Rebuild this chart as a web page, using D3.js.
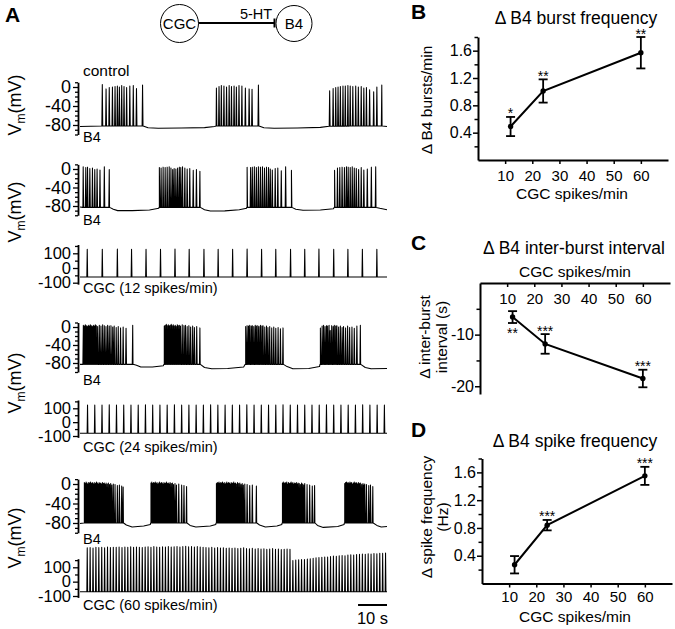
<!DOCTYPE html>
<html><head><meta charset="utf-8">
<script src="https://cdn.jsdelivr.net/npm/d3@7/dist/d3.min.js"></script>
<style>
html,body{margin:0;padding:0;background:#fff;}
svg{display:block;}
text{font-family:"Liberation Sans",Arial,Helvetica,sans-serif;fill:#000;}
</style></head><body>
<svg id="fig" width="675" height="629"></svg>
<script>
// ================= DATA =================
const cgcRates = [12, 24, 60];
const burstFreqMean = [0.49, 1.01, 1.57];
const burstFreqSem  = [0.14, 0.17, 0.23];
const burstFreqSig  = ["*", "**", "**"];
const interBurstMean = [-6.6, -11.8, -18.5];
const interBurstSem  = [1.15, 1.9, 1.7];
const interBurstSig  = ["**", "***", "***"];
const interBurstSigPos = ["below", "above", "above"];
const spikeFreqMean = [0.27, 0.84, 1.55];
const spikeFreqSem  = [0.125, 0.075, 0.13];
const spikeFreqSig  = ["", "***", "***"];

const xTickValues = [10, 20, 30, 40, 50, 60];
const freqTickValues = [0.2, 0.4, 0.6, 0.8, 1.0, 1.2, 1.4, 1.6, 1.8];
const freqTickLabels = [0.4, 0.8, 1.2, 1.6];
const ibiTickValues = [-5, -10, -15, -20];
const ibiTickLabels = [-10, -20];
const b4TickValues = [10, 0, -10, -20, -30, -40, -50, -60, -70, -80, -90, -100];
const b4TickLabels = [0, -40, -80];
const cgcTickValues = [150, 100, 50, 0, -50, -100];
const cgcTickLabels = [100, 0, -100];

// B4 spikes: [time (s), peak (mV)]
const controlB4Spikes = [
 [7.7,5],[9.0,-4],[10.1,-1],[11.2,0],[12.1,1],[12.9,2],[13.6,0],[14.4,3],[15.2,1],[16.1,-1],[17.2,2],[18.4,3],[19.5,-3],[21.6,4],
 [47.1,-2],[48.0,1],[48.8,3],[49.7,2],[50.6,0],[51.5,3],[52.3,1],[53.2,2],[54.0,0],[54.9,3],[55.9,2],[57.1,-2],[58.4,-4],[59.4,-5],[61.6,4],
 [86.2,-8],[87.4,-3],[88.3,-1],[89.1,0],[89.9,1],[90.8,2],[91.6,2],[92.5,3],[93.3,2],[94.2,1],[95.2,2],[96.1,0],[97.1,1],[98.0,-2],[98.9,-1],[100.0,-6],[101.4,-10],[102.5,0],[104.2,4]
];
const controlB4Base = [[0,-83],[7.5,-82],[21.8,-82],[23.5,-86],[27,-87],[35,-86.5],[43,-85.5],[46.5,-83],[47,-82],[61.8,-82],[63.5,-86],[67,-87],[75,-86.5],[83,-85],[86,-82.5],[104.3,-82],[106,-83]];

const b4At12Spikes = [
 [1.1,5],[2.0,3],[2.6,4],[3.4,1],[4.3,2],[5.1,-1],[5.9,0],[6.9,-2],[8.4,5],[10.1,-1],
 [27.4,3],[28.0,2],[28.7,4],[29.4,3],[30.1,4],[30.8,5],[31.4,2],[32.0,-1],[32.5,1],[33.1,0],[33.7,2],[34.3,4],[34.8,3],[35.4,5],[36.2,2],[37.0,0],[37.9,1],[39.1,-3],[40.2,-1],[41.4,-5],
 [57.7,4],[58.9,3],[59.5,4],[60.2,5],[60.9,3],[61.6,5],[62.3,4],[63.0,5],[63.7,2],[64.4,4],[65.1,3],[65.7,0],[66.4,-2],[67.4,1],[68.3,2],[69.5,-4],[71.0,5],[73.0,-3],
 [87.9,-3],[88.9,2],[89.7,3],[90.5,4],[91.3,3],[92.0,5],[92.6,4],[93.3,3],[94.0,5],[94.7,2],[95.4,1],[96.2,-1],[97.1,3],[98.0,-2],[99.2,0],[100.6,4],[102.1,5]
];
const b4At12Base = [[0,-82],[1,-83],[10.2,-83],[11.5,-87],[13,-90],[18,-90],[24,-88.5],[27.2,-85],[27.4,-83],[41.5,-83],[43,-88],[45,-91],[50,-90.5],[55,-88],[57.5,-85],[57.7,-83],[73,-83],[74.5,-87],[77,-89],[83,-88.5],[87.5,-86],[87.9,-83],[102.2,-83],[103.5,-85],[106,-88]];

const b4At24Spikes = [
 [1.15,4],[1.49,2],[1.84,5],[2.18,3],[2.53,1],[2.87,4],[3.22,2],[3.56,5],[3.91,3],[4.25,1],[4.6,4],[4.94,2],[5.29,5],[5.63,3],[6.09,1],[6.67,4],[7.24,2],[7.82,5],[8.39,3],[8.97,1],[9.54,4],[10.1,2],[10.7,3],[11.3,0],[11.8,2],[12.5,-1],[13.2,1],[14.0,-2],[14.9,0],[15.9,-3],[18.2,4],
 [29.1,2],[29.4,4],[29.8,6],[30.1,3],[30.5,5],[30.8,2],[31.1,4],[31.5,6],[31.8,3],[32.2,5],[32.5,2],[32.9,4],[33.2,1],[33.6,5],[33.9,3],[34.3,4],[34.7,2],[35.3,5],[35.9,3],[36.4,4],[37.0,1],[37.6,3],[38.2,0],[38.9,2],[39.5,-1],[40.3,1],[41.4,-2],
 [57.2,1],[57.7,3],[58.2,2],[58.6,4],[59.1,2],[59.5,3],[60.0,1],[60.5,4],[60.9,2],[61.4,3],[61.8,1],[62.3,4],[62.8,2],[63.2,3],[63.8,0],[64.4,2],[64.9,-1],[65.5,1],[66.2,-2],[66.9,0],[67.6,-3],[68.4,-1],[69.2,-4],[70.1,-2],
 [83.0,-2],[83.6,2],[84.1,4],[84.6,1],[85.1,3],[85.5,2],[86.0,4],[86.4,-8],[86.9,3],[87.4,1],[87.8,4],[88.3,2],[88.7,3],[89.3,0],[89.9,2],[90.5,-1],[91.0,1],[91.7,-2],[92.4,2],[93.1,-1],[93.9,0],[94.7,-3],[95.6,2],[96.8,4]
];
const b4At24Base = [[0,-83],[18.3,-83],[19.5,-85],[21,-89],[25,-89],[28.8,-86],[29.1,-83],[41.5,-83],[43,-90],[45.5,-93],[51,-92],[56.5,-89],[57.2,-83],[70.2,-83],[71.5,-88],[73.5,-93],[79,-92],[82.7,-88],[83,-83],[96.9,-83],[98.5,-90],[100.5,-93],[106,-92]];

const b4At60Spikes = [
 [1.5,3],[1.8,1],[2.1,4],[2.4,2],[2.7,0],[3.0,3],[3.3,2],[3.6,4],[3.9,1],[4.2,3],[4.5,2],[4.8,0],[5.1,3],[5.4,1],[5.7,4],[6.0,2],[6.3,0],[6.6,3],[6.9,1],[7.2,2],[7.5,0],[7.8,3],[8.1,1],[8.4,2],[8.7,-1],[9.0,2],[9.4,0],[9.8,2],[10.2,-1],[10.6,1],[11.0,-2],[11.5,0],[12.1,-1],[12.9,-3],[13.6,-2],[14.4,-4],[14.9,-6],
 [24.5,2],[24.8,4],[25.1,1],[25.4,3],[25.7,2],[26.0,4],[26.3,1],[26.6,3],[26.9,0],[27.2,2],[27.5,4],[27.8,1],[28.1,3],[28.4,2],[28.7,0],[29.0,3],[29.3,1],[29.6,2],[29.9,4],[30.2,1],[30.5,2],[30.8,0],[31.1,3],[31.5,1],[31.9,2],[32.3,-1],[32.8,1],[33.3,-2],[34.1,0],[35.1,-2],[35.9,-3],[36.8,-5],
 [47.1,1],[47.4,3],[47.7,2],[48.0,4],[48.3,1],[48.6,3],[48.9,2],[49.2,4],[49.5,1],[49.8,3],[50.1,0],[50.4,2],[50.7,4],[51.0,1],[51.3,3],[51.6,2],[51.9,0],[52.2,3],[52.5,1],[52.8,2],[53.1,4],[53.4,1],[53.7,2],[54.0,0],[54.4,3],[54.8,1],[55.2,2],[55.6,-1],[56.0,1],[56.4,-2],[56.9,0],[57.7,-1],[58.6,-3],[59.5,-2],[60.9,-4],
 [69.9,2],[70.2,4],[70.5,1],[70.8,3],[71.1,2],[71.4,4],[71.7,0],[72.0,3],[72.3,1],[72.6,2],[72.9,4],[73.2,1],[73.5,3],[73.8,0],[74.1,2],[74.4,1],[74.7,3],[75.0,0],[75.3,2],[75.7,1],[76.1,-1],[76.5,2],[76.9,0],[77.3,-2],[77.6,1],[78.4,-1],[79.3,-2],[80.2,-4],[81.0,-3],
 [91.4,1],[91.7,3],[92.0,4],[92.3,2],[92.6,3],[92.9,1],[93.2,4],[93.5,2],[93.8,3],[94.1,0],[94.4,2],[94.7,4],[95.0,1],[95.3,3],[95.6,2],[95.9,0],[96.2,3],[96.5,1],[96.9,2],[97.3,-1],[97.7,1],[98.0,-2],[98.3,0],[98.9,-1],[99.7,-3],[100.3,-2],[101.1,-5]
];
const b4At60Base = [[0,-81],[1.5,-80],[15,-80],[16,-84],[18,-88],[22,-86],[24.3,-83],[24.5,-80],[36.9,-80],[38,-85],[40,-88],[45,-86],[46.9,-83],[47.1,-80],[61,-80],[62,-84],[64,-88],[68,-86],[69.7,-83],[69.9,-80],[81.1,-80],[82,-85],[84,-89],[89,-87],[91.2,-83],[91.4,-80],[101.2,-80],[102.5,-85],[104,-88],[106,-87]];

// CGC spikes: times (s), peaks (mV), resting level (mV)
const cgc12Times = [2.5,7.7,12.9,17.8,22.8,27.8,32.8,37.7,42.8,47.7,52.7,57.7,62.7,67.6,72.7,77.6,82.5,87.6,92.5,97.5,102.5];
const cgc12Peaks = [128,127,129,128,127,128,129,127,128,128,127,129,128,127,128,128,129,127,128,127,128];
const cgc24Times = [2.6,5.1,7.6,10.1,12.6,15.1,17.6,20.1,22.6,25.1,27.6,30.1,32.6,35.1,37.6,40.1,42.6,45.1,47.6,50.1,52.6,55.1,57.6,60.1,62.6,65.1,67.6,70.1,72.6,75.1,77.6,80.1,82.6,85.1,87.6,90.1,92.6,95.1,97.6,100.1,102.6,105.1];
const cgc24Peaks = [124,123,124,125,123,124,124,123,125,124,123,124,125,124,123,124,124,125,123,124,124,123,125,124,123,124,124,125,123,124,124,123,124,125,124,123,124,124,125,123,124,124];
const cgc60Times = [2.5,3.5,4.5,5.5,6.5,7.5,8.5,9.5,10.5,11.5,12.5,13.5,14.5,15.5,16.5,17.5,18.5,19.5,20.5,21.5,22.5,23.5,24.5,25.5,26.5,27.5,28.5,29.5,30.5,31.5,32.5,33.5,34.5,35.5,36.5,37.5,38.5,39.5,40.5,41.5,42.5,43.5,44.5,45.5,46.5,47.5,48.5,49.5,50.5,51.5,52.5,53.5,54.5,55.5,56.5,57.5,58.5,59.5,60.5,61.5,62.5,63.5,64.5,65.5,66.5,67.5,68.5,69.5,70.5,71.5,72.5,73.5,74.5,75.5,76.5,77.5,78.5,79.5,80.5,81.5,82.5,83.5,84.5,85.5,86.5,87.5,88.5,89.5,90.5,91.5,92.5,93.5,94.5,95.5,96.5,97.5,98.5,99.5,100.5,101.5,102.5,103.5,104.5,105.5];
const cgc60Peaks = [236,238,235,240,237,239,236,241,238,240, 239,242,238,241,240,243,239,242,240,238, 241,243,240,244,241,239,243,242,244,241, 243,245,242,244,246,243,245,242,244,241, 240,238,236,239,235,237,234,236,233,235, 232,234,231,233,236,230,229,232,228,231, 227,229,226,228,230,225,227,224,226,228,225, 148,150,152,155,154,158,160,163,166,168, 170,172,171,175,178,176,180,182,181,185, 187,186,189,190,192,191,194,193,196,195,198,197,199];
const cgcRestLevels = [-61, -80, -70];
const traceDuration = 106;
const scaleBarSeconds = 10;

// ================= DRAW =================
const svg = d3.select("#fig");
const FONT = '"Liberation Sans", Arial, Helvetica, sans-serif';

function txt(x, y, s, size, opts = {}) {
  const t = svg.append("text").attr("x", x).attr("y", y).text(s)
    .attr("font-size", size).attr("font-family", FONT)
    .attr("text-anchor", opts.anchor || "start");
  if (opts.weight) t.attr("font-weight", opts.weight);
  if (opts.rotate) t.attr("transform", `rotate(-90,${x},${y})`);
  return t;
}

// ---- Panel A ----
txt(5, 22, "A", 21, {weight: "bold"});
// diagram
svg.append("circle").attr("cx", 179.5).attr("cy", 23.5).attr("r", 19).attr("fill", "none").attr("stroke", "#000").attr("stroke-width", 1);
svg.append("circle").attr("cx", 294).attr("cy", 23.5).attr("r", 18).attr("fill", "none").attr("stroke", "#000").attr("stroke-width", 1);
txt(179.5, 29, "CGC", 15, {anchor: "middle"});
txt(294, 29, "B4", 15, {anchor: "middle"});
svg.append("line").attr("x1", 198.5).attr("x2", 274).attr("y1", 23).attr("y2", 23).attr("stroke", "#000").attr("stroke-width", 2);
svg.append("line").attr("x1", 274.5).attr("x2", 274.5).attr("y1", 18.5).attr("y2", 27.5).attr("stroke", "#000").attr("stroke-width", 2);
txt(256, 19, "5-HT", 14.5, {anchor: "middle"});

const tx = d3.scaleLinear().domain([0, traceDuration]).range([80, 387]);
const AXX = 78;

function baseAt(knots, t) {
  const i = d3.bisector(d => d[0]).right(knots, t);
  if (i <= 0) return knots[0][1];
  if (i >= knots.length) return knots[knots.length - 1][1];
  const a = knots[i - 1], b = knots[i];
  return a[1] + (b[1] - a[1]) * (t - a[0]) / (b[0] - a[0]);
}

function tracePath(knots, spikes, y, hw) {
  const pts = knots.map(k => [tx(k[0]), y(k[1]), 0]);
  spikes.forEach(([t, pk]) => {
    const b = y(baseAt(knots, t));
    const xs = tx(t);
    pts.push([xs - hw, b, 1], [xs, y(pk), 2], [xs + hw, b, 3]);
  });
  pts.sort((a, b) => a[0] - b[0] || a[2] - b[2]);
  return d3.line()(pts.map(p => [p[0], p[1]]));
}

function vAxis(yFn, lo, hi, ticks, labels, fontSize) {
  const ya = d3.scaleLinear().domain([lo, hi]).range([yFn(lo), yFn(hi)]);
  const g = svg.append("g").attr("transform", `translate(${AXX},0)`)
    .call(d3.axisLeft(ya).tickValues(ticks).tickSize(5).tickPadding(2).tickSizeOuter(0)
      .tickFormat(d => labels.includes(d) ? String(d) : ""));
  g.attr("font-family", null).attr("font-size", null);
  g.select(".domain").attr("stroke-width", 1.8);
  g.selectAll(".tick line").attr("stroke-width", 1.3)
    .attr("x2", d => labels.includes(d) ? -5 : -3);
  g.selectAll(".tick text").attr("font-size", fontSize).attr("font-family", FONT);
}

const b4Traces = [
  {spikes: controlB4Spikes, base: controlB4Base, y0: 87, y80: 125, label: "B4", lblY: 142},
  {spikes: b4At12Spikes, base: b4At12Base, y0: 169, y80: 206, label: "B4", lblY: 225},
  {spikes: b4At24Spikes, base: b4At24Base, y0: 327, y80: 363, label: "B4", lblY: 385},
  {spikes: b4At60Spikes, base: b4At60Base, y0: 484, y80: 523, label: "B4", lblY: 544}
];
b4Traces.forEach(tr => {
  const y = d3.scaleLinear().domain([-80, 0]).range([tr.y80, tr.y0]);
  vAxis(y, -100, 10, b4TickValues, b4TickLabels, 18);
  svg.append("path").attr("d", tracePath(tr.base, tr.spikes, y, 0.45))
    .attr("fill", "none").attr("stroke", "#000").attr("stroke-width", 1.05).attr("stroke-linejoin", "round");
  txt(83, tr.lblY, tr.label, 14.5);
});

const cgcTraces = [
  {times: cgc12Times, peaks: cgc12Peaks, rest: cgcRestLevels[0], y100: 253.3, ym100: 282.7, lo: -110, hi: 160, label: "CGC (12 spikes/min)", lblY: 293},
  {times: cgc24Times, peaks: cgc24Peaks, rest: cgcRestLevels[1], y100: 408.3, ym100: 436, lo: -110, hi: 160, label: "CGC (24 spikes/min)", lblY: 452},
  {times: cgc60Times, peaks: cgc60Peaks, rest: cgcRestLevels[2], y100: 567.3, ym100: 596, lo: -110, hi: 160, label: "CGC (60 spikes/min)", lblY: 610}
];
cgcTraces.forEach(tr => {
  const y = d3.scaleLinear().domain([-100, 100]).range([tr.ym100, tr.y100]);
  vAxis(y, tr.lo, tr.hi, cgcTickValues, cgcTickLabels, 16.5);
  const knots = [[0, tr.rest], [traceDuration, tr.rest]];
  const spikes = tr.times.map((t, i) => [t, tr.peaks[i]]);
  svg.append("path").attr("d", tracePath(knots, spikes, y, 0.4))
    .attr("fill", "none").attr("stroke", "#000").attr("stroke-width", 1.05).attr("stroke-linejoin", "round");
  txt(83, tr.lblY, tr.label, 14.5);
});

// control label
txt(83, 76, "control", 15.5);

// Vm(mV) labels
[105, 212, 383, 538].forEach(cy => {
  const t = svg.append("text").attr("font-family", FONT).attr("font-size", 18)
    .attr("text-anchor", "middle")
    .attr("transform", `translate(21,${cy}) rotate(-90)`);
  t.append("tspan").text("V");
  t.append("tspan").text("m").attr("font-size", 12).attr("dy", 4);
  t.append("tspan").text("(mV)").attr("dy", -4);
});

// scale bar
svg.append("line").attr("x1", tx(traceDuration - scaleBarSeconds)).attr("x2", tx(traceDuration))
  .attr("y1", 605).attr("y2", 605).attr("stroke", "#000").attr("stroke-width", 2);
txt((tx(traceDuration - scaleBarSeconds) + tx(traceDuration)) / 2, 624, scaleBarSeconds + " s", 16.5, {anchor: "middle"});

// ---- Panels B, C, D ----
function statPanel(cfg) {
  const x = d3.scaleLinear().domain([0, 70]).range([cfg.x0, cfg.x1]);
  const y = d3.scaleLinear().domain(cfg.yDomain).range([cfg.yBottom, cfg.yTop]);
  // x axis
  const gx = svg.append("g").attr("transform", `translate(0,${cfg.xAxisY})`)
    .call(d3.axisBottom(x).tickValues(xTickValues).tickSize(4).tickPadding(cfg.xPad).tickSizeOuter(0));
  gx.attr("font-family", null).attr("font-size", null);
  gx.select(".domain").attr("stroke-width", 2);
  gx.selectAll(".tick line").attr("stroke-width", 1.5);
  gx.selectAll(".tick text").attr("font-size", 15).attr("font-family", FONT);
  // y axis
  const gy = svg.append("g").attr("transform", `translate(${cfg.x0},0)`)
    .call(d3.axisLeft(y).tickValues(cfg.yTicks).tickSize(5).tickPadding(1).tickSizeOuter(0)
      .tickFormat(d => cfg.yLabels.includes(d) ? cfg.fmt(d) : ""));
  gy.attr("font-family", null).attr("font-size", null);
  gy.select(".domain").attr("stroke-width", 2);
  gy.selectAll(".tick line").attr("stroke-width", 1.5).attr("x2", d => cfg.yLabels.includes(d) ? -5 : -3.5);
  gy.selectAll(".tick text").attr("font-size", 16).attr("font-family", FONT);

  // line
  const pts = cgcRates.map((r, i) => [x(r), y(cfg.mean[i])]);
  svg.append("path").attr("d", d3.line()(pts)).attr("fill", "none").attr("stroke", "#000").attr("stroke-width", 2);
  // error bars
  cgcRates.forEach((r, i) => {
    const xi = x(r), yt = y(cfg.mean[i] + cfg.sem[i]), yb = y(cfg.mean[i] - cfg.sem[i]);
    const g = svg.append("g").attr("stroke", "#000").attr("stroke-width", 1.8);
    g.append("line").attr("x1", xi).attr("x2", xi).attr("y1", yt).attr("y2", yb);
    g.append("line").attr("x1", xi - 4.5).attr("x2", xi + 4.5).attr("y1", yt).attr("y2", yt);
    g.append("line").attr("x1", xi - 4.5).attr("x2", xi + 4.5).attr("y1", yb).attr("y2", yb);
    svg.append("circle").attr("cx", xi).attr("cy", y(cfg.mean[i])).attr("r", 2.7).attr("fill", "#000");
    const s = cfg.sig[i];
    if (s) {
      const below = cfg.sigPos && cfg.sigPos[i] === "below";
      txt(xi, below ? yb + 15 : yt + 1.5, s, 14, {anchor: "middle"});
    }
  });
  // texts
  txt(cfg.letterX, cfg.letterY, cfg.letter, 21, {weight: "bold"});
  txt(cfg.titleX, cfg.titleY, cfg.title, 17.5, {anchor: "middle"});
  txt(cfg.xLabX, cfg.xLabY, "CGC spikes/min", 15.5, {anchor: "middle"});
  cfg.yLab.forEach((l, i) => {
    txt(cfg.yLabXs[i], cfg.yLabY, l, 15.5, {anchor: "middle", rotate: true});
  });
}

statPanel({
  letter: "B", letterX: 411, letterY: 19,
  x0: 478, x1: 668, yDomain: [0, 1.8], yBottom: 160, yTop: 37, xAxisY: 160, xPad: 6,
  yTicks: freqTickValues, yLabels: freqTickLabels, fmt: d3.format(".1f"),
  mean: burstFreqMean, sem: burstFreqSem, sig: burstFreqSig,
  title: "\u0394 B4 burst frequency", titleX: 576, titleY: 24,
  xLabX: 572, xLabY: 198.5,
  yLab: ["\u0394 B4 bursts/min"], yLabXs: [432], yLabY: 100
});

statPanel({
  letter: "C", letterX: 411, letterY: 250,
  x0: 480, x1: 670, yDomain: [-21.5, 0], yBottom: 394, yTop: 283, xAxisY: 283, xPad: 6,
  yTicks: ibiTickValues, yLabels: ibiTickLabels, fmt: d => String(d),
  mean: interBurstMean, sem: interBurstSem, sig: interBurstSig, sigPos: interBurstSigPos,
  title: "\u0394 B4 inter-burst interval", titleX: 574, titleY: 254,
  xLabX: 575, xLabY: 277,
  yLab: ["\u0394 inter-burst", "interval  (s)"], yLabXs: [430, 447], yLabY: 337
});

statPanel({
  letter: "D", letterX: 411, letterY: 437,
  x0: 482, x1: 672, yDomain: [0, 1.8], yBottom: 583.5, yTop: 458.5, xAxisY: 583.5, xPad: 4,
  yTicks: freqTickValues, yLabels: freqTickLabels, fmt: d3.format(".1f"),
  mean: spikeFreqMean, sem: spikeFreqSem, sig: spikeFreqSig,
  title: "\u0394 B4 spike frequency", titleX: 575, titleY: 447,
  xLabX: 575, xLabY: 622,
  yLab: ["\u0394 spike frequency", "(Hz)"], yLabXs: [432, 448], yLabY: 517
});
</script>
</body></html>
